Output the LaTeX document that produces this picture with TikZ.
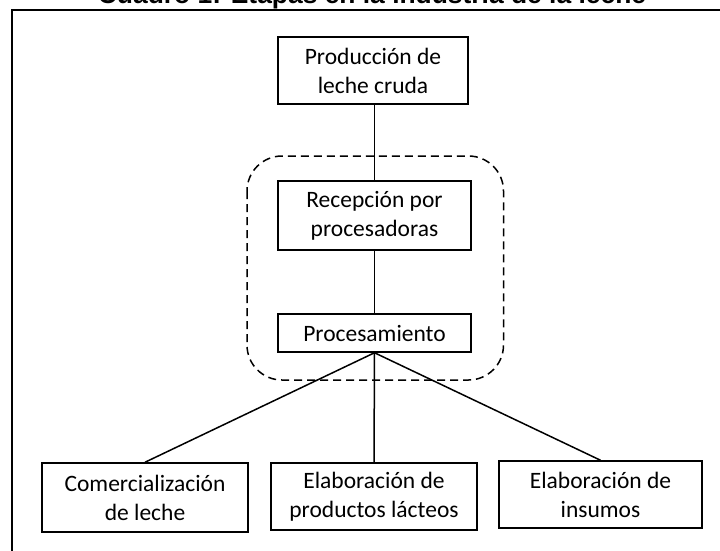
\documentclass[tikz,border=0pt]{standalone}
\usepackage{fontspec}
\setmainfont{Carlito}
\newfontfamily\titlefont{Liberation Sans}
\begin{document}
\begin{tikzpicture}[x=1pt,y=-1pt,line width=1.5pt,
stagebox/.style={draw,rectangle,inner sep=0pt,align=center,font=\fontsize{23.5}{29}\selectfont},
groupbox/.style={draw,dash pattern=on 8pt off 5pt,rounded corners=35pt}]
\clip (0,0) rectangle (720,550);
\draw[line width=1.8pt] (12,10) rectangle (740,570);
\draw (372,3) node[anchor=base,font=\titlefont\bfseries\fontsize{26.4}{30}\selectfont] (title) {Cuadro 1: Etapas en la industria de la leche};
\draw (373,70.5) node[stagebox,minimum width=190pt,minimum height=67pt] (prod) {Producción de\\leche cruda};
\draw (374.5,215.5) node[stagebox,minimum width=193pt,minimum height=69pt] (recep) {Recepción por\\procesadoras};
\draw (374.5,333) node[stagebox,minimum width=193pt,minimum height=38pt] (proc) {Procesamiento};
\draw (145,497.5) node[stagebox,minimum width=206pt,minimum height=69pt] (com) {Comercialización\\de leche};
\draw (374,496.5) node[stagebox,minimum width=206pt,minimum height=67pt] (lact) {Elaboración de\\productos lácteos};
\draw (600.5,494.5) node[stagebox,minimum width=203pt,minimum height=67pt] (insu) {Elaboración de\\insumos};
% grupo de procesadoras
\draw[groupbox] (247,156) rectangle (503.5,380);
\draw (recep.north |- prod.south) -- (recep.north);
\draw (recep.south) -- (proc.north);
\draw (proc.south) -- (com.north);
\draw (proc.south) -- (lact.north);
\draw (proc.south) -- (insu.north);
\end{tikzpicture}
\end{document}
